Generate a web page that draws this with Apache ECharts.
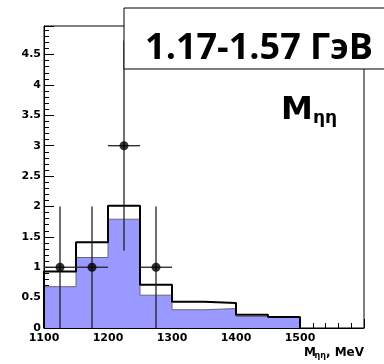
<!DOCTYPE html>
<html>
<head>
<meta charset="utf-8">
<script src="https://cdn.jsdelivr.net/npm/echarts@6/dist/echarts.min.js"></script>
<style>
html,body{margin:0;padding:0;background:#fff;}
#c{width:384px;height:364px;}
</style>
</head>
<body>
<div id="c"></div>
<script>
// Bin low edges (MeV), bin width 50 MeV
const binEdges = [1100, 1150, 1200, 1250, 1300, 1350, 1400, 1450];
const binEnd = 1500;
// Total (outline) histogram
const totalValues = [0.93, 1.41, 2.01, 0.71, 0.43, 0.41, 0.22, 0.18];
// Blue-filled histogram
const blueValues = [0.68, 1.16, 1.79, 0.54, 0.30, 0.32, 0.19, 0.17];
// Data points
const pointX = [1125, 1175, 1225, 1275];
const pointY = [1, 1, 3, 1];
const errLow = [1, 1, 1.73, 1];
const errHigh = [1, 1, 1.73, 1];
const xHalfWidth = 25;

function stepData(vals) {
  const d = [[binEdges[0], 0]];
  binEdges.forEach((e, i) => d.push([e, vals[i]]));
  d.push([binEnd, 0]);
  return d;
}

const errData = pointX.map((x, i) => [x, pointY[i], pointY[i] - errLow[i], pointY[i] + errHigh[i]]);
const ptData = pointX.map((x, i) => [x, pointY[i]]);

const chart = echarts.init(document.getElementById('c'), null, {renderer: 'canvas'});
const lblFont = {fontFamily: 'DejaVu Sans', fontWeight: 'bold', color: '#000'};

chart.setOption({
  animation: false,
  backgroundColor: '#fff',
  grid: {left: 44, right: 20, top: 26, bottom: 36, show: true, borderColor: '#000', borderWidth: 1, backgroundColor: '#fff'},
  xAxis: {
    type: 'value', min: 1100, max: 1600, interval: 100,
    axisLine: {lineStyle: {color: '#000', width: 1}},
    axisTick: {inside: true, length: 9, lineStyle: {color: '#000'}},
    minorTick: {show: true, splitNumber: 5, length: 5, lineStyle: {color: '#000'}},
    splitLine: {show: false},
    axisLabel: Object.assign({fontSize: 11, margin: 5, showMaxLabel: false, formatter: v => String(v)}, lblFont)
  },
  yAxis: {
    type: 'value', min: 0, max: 4.97, interval: 0.5,
    axisLine: {lineStyle: {color: '#000', width: 1}},
    axisTick: {inside: true, length: 10, lineStyle: {color: '#000'}},
    minorTick: {show: true, splitNumber: 5, length: 5, lineStyle: {color: '#000'}},
    splitLine: {show: false},
    axisLabel: Object.assign({fontSize: 11, margin: 3, showMaxLabel: false, formatter: v => String(v)}, lblFont)
  },
  series: [
    {
      type: 'line', step: 'end', data: stepData(blueValues), symbol: 'none', z: 2,
      lineStyle: {color: '#666677', width: 1},
      areaStyle: {color: '#9999ff', opacity: 1}
    },
    {
      type: 'line', step: 'end', data: stepData(totalValues), symbol: 'none', z: 3,
      lineStyle: {color: '#000', width: 2}
    },
    {
      type: 'custom', z: 4, data: errData,
      encode: {x: 0, y: 1},
      renderItem: function (params, api) {
        const x = api.value(0), y = api.value(1), lo = api.value(2), hi = api.value(3);
        const a = api.coord([x - xHalfWidth, y]);
        const b = api.coord([x + xHalfWidth, y]);
        const c = api.coord([x, lo]);
        const d = api.coord([x, hi]);
        const st = {stroke: '#222', lineWidth: 1.3};
        return {type: 'group', children: [
          {type: 'line', shape: {x1: a[0], y1: a[1], x2: b[0], y2: b[1]}, style: st},
          {type: 'line', shape: {x1: c[0], y1: c[1], x2: d[0], y2: d[1]}, style: st}
        ]};
      }
    },
    {
      type: 'scatter', z: 5, data: ptData, symbol: 'circle', symbolSize: 9,
      itemStyle: {color: '#000'}
    }
  ],
  graphic: [
    {type: 'rect', z: 100, shape: {x: 124, y: 8, width: 280, height: 61},
      style: {fill: '#fff', stroke: '#000', lineWidth: 1}},
    {type: 'text', z: 101, style: {text: '1.17-1.57 ГэВ', x: 259, y: 49, textAlign: 'center', textVerticalAlign: 'middle',
      fontFamily: 'Open Sans', fontWeight: 'bold', fontSize: 36, fill: '#000'}},
    {type: 'text', z: 101, style: {text: 'M', x: 281, y: 111, textAlign: 'left', textVerticalAlign: 'middle',
      fontFamily: 'DejaVu Sans', fontWeight: 'bold', fontSize: 32, fill: '#000'}},
    {type: 'text', z: 101, style: {text: 'ηη', x: 313, y: 119, textAlign: 'left', textVerticalAlign: 'middle',
      fontFamily: 'DejaVu Sans', fontWeight: 'bold', fontSize: 17, fill: '#000'}},
    {type: 'text', z: 101, style: {text: ', MeV', x: 364, y: 353, textAlign: 'right', textVerticalAlign: 'middle',
      fontFamily: 'DejaVu Sans', fontWeight: 'bold', fontSize: 12, fill: '#000'}},
    {type: 'text', z: 101, style: {text: 'ηη', x: 326, y: 356, textAlign: 'right', textVerticalAlign: 'middle',
      fontFamily: 'DejaVu Sans', fontWeight: 'bold', fontSize: 8, fill: '#000'}},
    {type: 'text', z: 101, style: {text: 'M', x: 316, y: 353, textAlign: 'right', textVerticalAlign: 'middle',
      fontFamily: 'DejaVu Sans', fontWeight: 'bold', fontSize: 12, fill: '#000'}}
  ]
});
</script>
</body>
</html>
